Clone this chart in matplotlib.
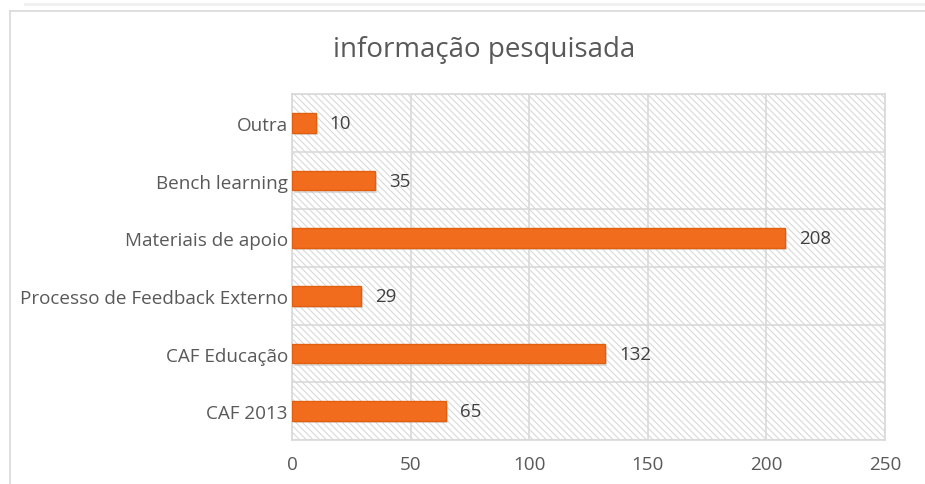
import numpy as np
import matplotlib.pyplot as plt
from matplotlib.patches import Rectangle
from matplotlib.lines import Line2D

categories = ['CAF 2013', 'CAF Educação', 'Processo de Feedback Externo',
              'Materiais de apoio', 'Bench learning', 'Outra']
values = [65, 132, 29, 208, 35, 10]
xticks = [0, 50, 100, 150, 200, 250]

plt.rcParams['font.family'] = ['Open Sans', 'DejaVu Sans']
plt.rcParams['hatch.color'] = '#d9d9d9'
plt.rcParams['hatch.linewidth'] = 0.8

fig = plt.figure(figsize=(9.25, 4.85), dpi=100)
ax = fig.add_axes([0.3157, 0.0907, 0.641, 0.713])

# outer chart frame
fig.add_artist(Line2D([10 / 925, 10 / 925], [0, 1 - 12 / 485], color='#d9d9d9', lw=1.2))
fig.add_artist(Line2D([10 / 925, 1], [1 - 12 / 485, 1 - 12 / 485], color='#d9d9d9', lw=1.2))
fig.add_artist(Line2D([25 / 925, 1], [1 - 5 / 485, 1 - 5 / 485], color='#f0f0f0', lw=2))

# hatched plot background
ax.add_patch(Rectangle((0, 0), 1, 1, transform=ax.transAxes, facecolor='white',
                       edgecolor='#d9d9d9', hatch='\\\\\\\\\\', lw=0, zorder=0))

y = np.arange(len(categories))
# shadow
ax.barh(y - 0.04, values, height=0.34, color='#bfbfbf', alpha=0.5, zorder=2,
        left=0.8)
ax.barh(y, values, height=0.34, color='#f26c1e', edgecolor='#e0600f', lw=1, zorder=3)

for yi, v in zip(y, values):
    ax.annotate(str(v), (v, yi), xytext=(10, 0), textcoords='offset points',
                va='center', ha='left', fontsize=13.5, color='#404040')

ax.set_xlim(0, 250)
ax.set_ylim(-0.5, len(categories) - 0.5)
ax.set_xticks(xticks)
ax.set_yticks(y)
ax.set_yticklabels(categories)
ax.set_yticks(np.arange(-0.5, len(categories)), minor=True)
ax.grid(True, axis='x', color='#d9d9d9', lw=1.2, zorder=1)
ax.grid(True, axis='y', which='minor', color='#d9d9d9', lw=1.2, zorder=1)
ax.tick_params(axis='both', which='both', length=0, labelsize=13.6, colors='#595959')
ax.tick_params(axis='x', pad=11)
ax.tick_params(axis='y', pad=3)
for s in ax.spines.values():
    s.set_color('#d9d9d9')
    s.set_linewidth(1.2)
ax.set_axisbelow(True)

fig.text(0.523, 1 - 50 / 485, 'informação pesquisada', ha='center', va='center',
         fontsize=20, color='#595959')

fig.savefig('out.png', dpi=100)
